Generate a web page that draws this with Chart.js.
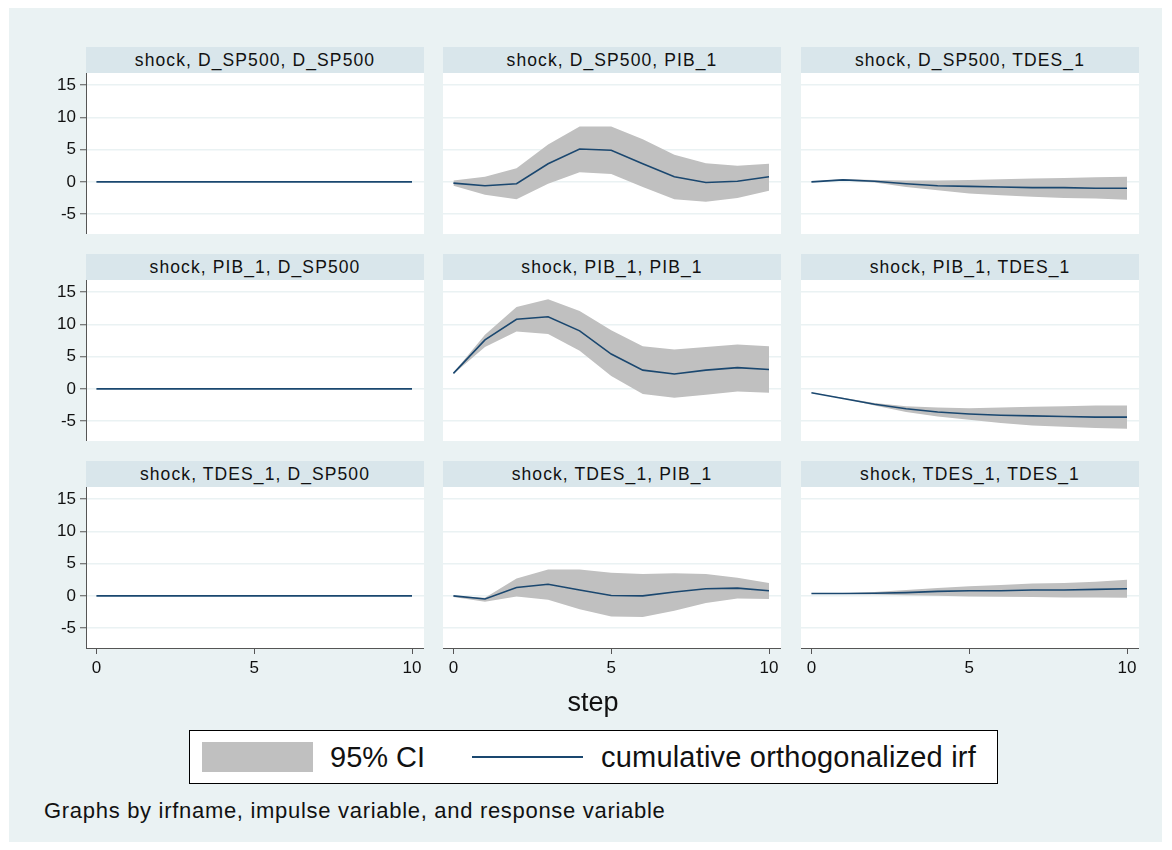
<!DOCTYPE html>
<html lang="en">
  <head>
    <meta charset="UTF-8" />
    <title>Cumulative orthogonalized IRF</title>
    <script src="https://cdn.jsdelivr.net/npm/chart.js"></script>
    <style>
      body {
        margin: 0;
        background: #ffffff;
        font-family: "Liberation Sans", Arial, sans-serif;
        width: 1172px;
        height: 850px;
        position: relative;
        overflow: hidden;
      }
      .abs {
        position: absolute;
      }
      #bg {
        left: 9px;
        top: 8px;
        width: 1153px;
        height: 834px;
        background: #eaf2f3;
      }
      .strip {
        background: #d9e6eb;
        height: 26px;
        line-height: 27px;
        text-align: center;
        font-size: 17.5px;
        color: #111;
        letter-spacing: 1.1px;
      }
      #legend {
        left: 189px;
        top: 730px;
        width: 807px;
        height: 52px;
        background: #fff;
        border: 1px solid #000;
      }
      .big {
        font-size: 29px;
        line-height: 30px;
        color: #111;
      }
    </style>
  </head>
  <body>
    <div id="bg" class="abs"></div>
    <div id="panels"></div>
    <div class="abs" style="left: 493px; top: 689px; width: 200px; text-align: center; font-size: 27px; line-height: 27px; color: #111">step</div>
    <div id="legend" class="abs"></div>
    <div class="abs" style="left: 202px; top: 742px; width: 111px; height: 30px; background: #c0c0c0"></div>
    <div class="abs big" style="left: 330px; top: 742px">95% CI</div>
    <div class="abs" style="left: 472px; top: 756px; width: 111px; height: 2px; background: #1a476f"></div>
    <div class="abs big" style="left: 601px; top: 742px; letter-spacing: 0.2px">cumulative orthogonalized irf</div>
    <div class="abs" style="left: 44px; top: 800px; font-size: 22px; line-height: 22px; letter-spacing: 0.7px; color: #111">Graphs by irfname, impulse variable, and response variable</div>

    <script>
      const steps = [0, 1, 2, 3, 4, 5, 6, 7, 8, 9, 10];
      const impulses = ["D_SP500", "PIB_1", "TDES_1"];
      const responses = ["D_SP500", "PIB_1", "TDES_1"];
      const yTicks = [-5, 0, 5, 10, 15];
      const xTicks = [0, 5, 10];

      // impulse D_SP500
      const irf_sp_sp = [0, 0, 0, 0, 0, 0, 0, 0, 0, 0, 0];
      const lo_sp_sp = [0, 0, 0, 0, 0, 0, 0, 0, 0, 0, 0];
      const hi_sp_sp = [0, 0, 0, 0, 0, 0, 0, 0, 0, 0, 0];
      const irf_sp_pib = [-0.2, -0.6, -0.3, 2.8, 5.1, 4.9, 2.8, 0.8, -0.1, 0.1, 0.8];
      const lo_sp_pib = [-0.6, -2.0, -2.7, -0.3, 1.5, 1.2, -0.8, -2.7, -3.1, -2.5, -1.4];
      const hi_sp_pib = [0.2, 0.8, 2.1, 5.8, 8.6, 8.6, 6.6, 4.2, 2.9, 2.5, 2.8];
      const irf_sp_tdes = [0, 0.3, 0.1, -0.3, -0.6, -0.7, -0.8, -0.9, -0.9, -1.0, -1.0];
      const lo_sp_tdes = [0, 0.2, -0.1, -0.8, -1.3, -1.8, -2.1, -2.3, -2.5, -2.6, -2.8];
      const hi_sp_tdes = [0, 0.45, 0.3, 0.2, 0.2, 0.3, 0.4, 0.5, 0.6, 0.7, 0.8];

      // impulse PIB_1
      const irf_pib_sp = [0, 0, 0, 0, 0, 0, 0, 0, 0, 0, 0];
      const lo_pib_sp = [0, 0, 0, 0, 0, 0, 0, 0, 0, 0, 0];
      const hi_pib_sp = [0, 0, 0, 0, 0, 0, 0, 0, 0, 0, 0];
      const irf_pib_pib = [2.4, 7.6, 10.8, 11.2, 9.0, 5.4, 2.9, 2.3, 2.9, 3.3, 3.0];
      const lo_pib_pib = [2.3, 6.5, 8.9, 8.5, 5.9, 2.0, -0.8, -1.4, -0.9, -0.4, -0.6];
      const hi_pib_pib = [2.5, 8.4, 12.7, 13.9, 12.1, 9.1, 6.6, 6.1, 6.5, 6.9, 6.6];
      const irf_pib_tdes = [-0.6, -1.5, -2.4, -3.1, -3.6, -3.9, -4.1, -4.2, -4.3, -4.4, -4.4];
      const lo_pib_tdes = [-0.6, -1.5, -2.6, -3.6, -4.3, -4.8, -5.3, -5.7, -5.9, -6.1, -6.2];
      const hi_pib_tdes = [-0.6, -1.4, -2.2, -2.7, -2.9, -3.0, -2.9, -2.8, -2.7, -2.6, -2.6];

      // impulse TDES_1
      const irf_tdes_sp = [0, 0, 0, 0, 0, 0, 0, 0, 0, 0, 0];
      const lo_tdes_sp = [0, 0, 0, 0, 0, 0, 0, 0, 0, 0, 0];
      const hi_tdes_sp = [0, 0, 0, 0, 0, 0, 0, 0, 0, 0, 0];
      const irf_tdes_pib = [0, -0.5, 1.3, 1.8, 0.9, 0.05, 0, 0.6, 1.1, 1.2, 0.8];
      const lo_tdes_pib = [-0.2, -0.9, -0.1, -0.6, -2.1, -3.2, -3.3, -2.3, -1.1, -0.4, -0.5];
      const hi_tdes_pib = [0, -0.3, 2.7, 4.1, 4.1, 3.6, 3.4, 3.5, 3.4, 2.8, 2.0];
      const irf_tdes_tdes = [0.36, 0.36, 0.4, 0.5, 0.7, 0.8, 0.8, 0.9, 0.9, 1.0, 1.1];
      const lo_tdes_tdes = [0.36, 0.3, 0.2, 0.1, 0, -0.1, -0.15, -0.2, -0.25, -0.25, -0.3];
      const hi_tdes_tdes = [0.36, 0.4, 0.6, 0.9, 1.2, 1.5, 1.7, 1.9, 2.0, 2.2, 2.5];

      // rows = impulse, cols = response
      const grid = [
        [[irf_sp_sp, lo_sp_sp, hi_sp_sp], [irf_sp_pib, lo_sp_pib, hi_sp_pib], [irf_sp_tdes, lo_sp_tdes, hi_sp_tdes]],
        [[irf_pib_sp, lo_pib_sp, hi_pib_sp], [irf_pib_pib, lo_pib_pib, hi_pib_pib], [irf_pib_tdes, lo_pib_tdes, hi_pib_tdes]],
        [[irf_tdes_sp, lo_tdes_sp, hi_tdes_sp], [irf_tdes_pib, lo_tdes_pib, hi_tdes_pib], [irf_tdes_tdes, lo_tdes_tdes, hi_tdes_tdes]],
      ];

      const plotX = [86, 443, 801];
      const plotTop = [73, 280, 487];
      const plotW = 338;
      const plotH = 161;
      const yAxisW = 46;
      const xAxisH = 40;
      const font = "'Liberation Sans', Arial, sans-serif";
      const axisColor = "#555";

      const whiteArea = {
        id: "whiteArea",
        beforeDraw(chart) {
          const a = chart.chartArea;
          chart.ctx.save();
          chart.ctx.fillStyle = "#ffffff";
          chart.ctx.fillRect(a.left, a.top, a.right - a.left, a.bottom - a.top);
          chart.ctx.restore();
        },
      };

      const pts = (arr) => steps.map((s, i) => ({ x: s, y: arr[i] }));
      const panels = document.getElementById("panels");

      for (let r = 0; r < 3; r++) {
        for (let c = 0; c < 3; c++) {
          const strip = document.createElement("div");
          strip.className = "abs strip";
          strip.style.left = plotX[c] + "px";
          strip.style.top = plotTop[r] - 26 + "px";
          strip.style.width = plotW + "px";
          strip.textContent = `shock, ${impulses[r]}, ${responses[c]}`;
          panels.appendChild(strip);

          const leftPad = c == 0 ? yAxisW : 0;
          const botPad = r == 2 ? xAxisH : 0;
          const box = document.createElement("div");
          box.className = "abs";
          box.style.left = plotX[c] - leftPad + "px";
          box.style.top = plotTop[r] + "px";
          box.style.width = plotW + leftPad + "px";
          box.style.height = plotH + botPad + "px";
          box.innerHTML = "<canvas></canvas>";
          panels.appendChild(box);

          const [irf, lo, hi] = grid[r][c];
          new Chart(box.children[0], {
            type: "line",
            data: {
              datasets: [
                {
                  data: pts(irf),
                  borderColor: "#1a476f",
                  borderWidth: 1.6,
                  pointRadius: 0,
                  fill: false,
                },
                {
                  data: pts(hi),
                  borderWidth: 0,
                  pointRadius: 0,
                  backgroundColor: "#c0c0c0",
                  fill: "+1",
                },
                {
                  data: pts(lo),
                  borderWidth: 0,
                  pointRadius: 0,
                  fill: false,
                },
              ],
            },
            options: {
              responsive: true,
              maintainAspectRatio: false,
              animation: false,
              layout: { padding: 0 },
              plugins: { legend: { display: false }, tooltip: { enabled: false } },
              scales: {
                x: {
                  type: "linear",
                  min: -0.33,
                  max: 10.38,
                  display: r == 2,
                  afterBuildTicks: (s) => {
                    s.ticks = xTicks.map((v) => ({ value: v }));
                  },
                  afterFit: (s) => {
                    s.height = botPad;
                    s.paddingLeft = 0;
                    s.paddingRight = 0;
                  },
                  grid: {
                    display: true,
                    drawOnChartArea: false,
                    drawTicks: true,
                    tickLength: 6,
                    tickColor: axisColor,
                  },
                  border: { display: true, color: axisColor, width: 1 },
                  ticks: {
                    maxRotation: 0,
                    padding: 4,
                    color: "#111",
                    font: { size: 17, family: font },
                  },
                },
                y: {
                  min: -8.1,
                  max: 16.9,
                  afterBuildTicks: (s) => {
                    s.ticks = yTicks.map((v) => ({ value: v }));
                  },
                  afterFit: (s) => {
                    s.width = leftPad;
                    s.paddingTop = 0;
                    s.paddingBottom = 0;
                  },
                  grid: {
                    color: "#eaf2f3",
                    lineWidth: 1.5,
                    drawTicks: c == 0,
                    tickLength: 6,
                    tickColor: axisColor,
                    tickWidth: 1,
                  },
                  border: { display: c == 0, color: axisColor, width: 1 },
                  ticks: {
                    display: c == 0,
                    padding: 4,
                    color: "#111",
                    font: { size: 17, family: font },
                  },
                },
              },
            },
            plugins: [whiteArea],
          });
        }
      }
    </script>
  </body>
</html>
